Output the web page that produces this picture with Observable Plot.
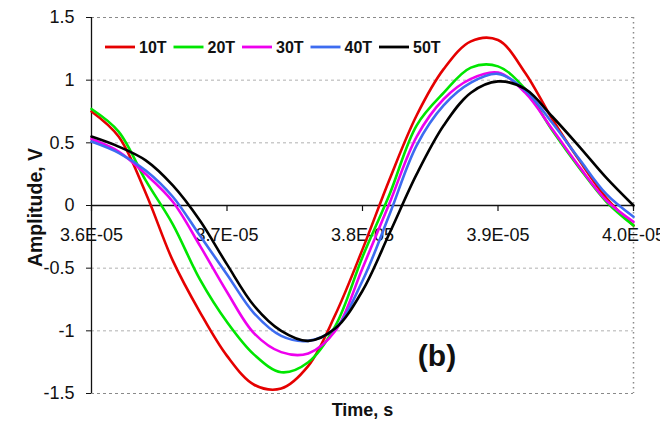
<!DOCTYPE html>
<html><head><meta charset="utf-8">
<script src="https://cdn.jsdelivr.net/npm/d3@7"></script>
<script src="https://cdn.jsdelivr.net/npm/@observablehq/plot@0.6"></script>
<style>
body{margin:0;background:#fff;}
#chart{width:660px;height:423px;overflow:hidden;}
</style>
</head><body><div id="chart"></div>
<script>
// time in microseconds (converted to seconds below)
const timeUs = [36.0,36.2,36.4,36.6,36.8,37.0,37.2,37.4,37.6,37.8,38.0,38.2,38.4,38.6,38.8,39.0,39.2,39.4,39.6,39.8,40.0];
const seriesNames = ["10T","20T","30T","40T","50T"];
const seriesColors = ["#e50000","#00e600","#ee00ee","#3d6cf0","#000000"];
const v10T = [0.75,0.55,0.10,-0.44,-0.85,-1.20,-1.43,-1.46,-1.28,-0.87,-0.35,0.21,0.72,1.09,1.31,1.32,1.06,0.69,0.36,0.06,-0.16];
const v20T = [0.77,0.59,0.20,-0.15,-0.59,-0.93,-1.19,-1.33,-1.25,-0.96,-0.41,0.09,0.64,0.90,1.10,1.11,0.93,0.60,0.30,0.03,-0.16];
const v30T = [0.53,0.43,0.25,0.03,-0.32,-0.69,-1.02,-1.17,-1.18,-1.00,-0.50,0.02,0.55,0.85,1.01,1.06,0.90,0.61,0.31,0.04,-0.13];
const v40T = [0.51,0.42,0.28,0.07,-0.24,-0.55,-0.86,-1.04,-1.08,-0.98,-0.60,-0.07,0.48,0.80,0.98,1.05,0.92,0.66,0.37,0.09,-0.09];
const v50T = [0.55,0.47,0.36,0.16,-0.12,-0.47,-0.80,-1.00,-1.08,-0.98,-0.68,-0.22,0.25,0.64,0.90,0.99,0.93,0.71,0.47,0.22,0.00];
const yTicks = [-1.5,-1,-0.5,0,0.5,1,1.5];
const yGrid = [-1,-0.5,0.5,1];
const yFrame = [-1.5,1.5];
const xTicks = [3.6e-5,3.7e-5,3.8e-5,3.9e-5,4.0e-5];
const xTitle = "Time, s";
const yTitle = "Amplitude, V";
const panelLabel = "(b)";

const allValues = [v10T,v20T,v30T,v40T,v50T];
const rows = [];
seriesNames.forEach((s, k) => {
  timeUs.forEach((t, i) => rows.push({series: s, time: t * 1e-6, value: allValues[k][i]}));
});

function fmtE(d) {
  const [m, e] = d.toExponential(1).split("e");
  const n = +e;
  return m + "E" + (n < 0 ? "-" : "+") + String(Math.abs(n)).padStart(2, "0");
}

const font = "'Liberation Sans', Arial, sans-serif";

const plot = Plot.plot({
  width: 660,
  height: 423,
  marginLeft: 91,
  marginRight: 27,
  marginTop: 17,
  marginBottom: 30,
  style: {fontFamily: font, fontSize: "18px", color: "#111", background: "#fff", overflow: "hidden"},
  x: {domain: [3.6e-5, 4.0e-5], axis: null},
  y: {domain: [-1.5, 1.5], ticks: yTicks, tickFormat: d => String(d), tickSize: 5, tickPadding: 12, label: null},
  color: {domain: seriesNames, range: seriesColors},
  marks: [
    Plot.ruleY(yGrid, {stroke: "#b0b0b0", strokeDasharray: "3,3", strokeWidth: 1}),
    Plot.ruleY(yFrame, {stroke: "#8a8a8a", strokeDasharray: "3,3", strokeWidth: 1.2}),
    Plot.ruleX([4.0e-5], {stroke: "#8a8a8a", strokeDasharray: "1.5,3.5", strokeWidth: 1.5}),
    Plot.ruleX([3.6e-5], {stroke: "#111", strokeWidth: 1.3}),
    Plot.ruleY([0], {stroke: "#111", strokeWidth: 1.3}),
    Plot.ruleX(xTicks, {x: d => d, y1: 0, y2: 0, insetTop: 0, insetBottom: -6, stroke: "#111", strokeWidth: 1.2}),
    Plot.text(xTicks, {x: d => d, y: 0, text: fmtE, dy: 30, fontSize: 18, fill: "#111"}),
    Plot.line(rows, {x: "time", y: "value", z: "series", stroke: "series", strokeWidth: 2.6, curve: "catmull-rom"}),
    Plot.text([yTitle], {frameAnchor: "left", textAnchor: "middle", rotate: -90, dx: -56, dy: 2, fontWeight: "bold", fontSize: 19.5, fill: "#111"}),
    Plot.text([xTitle], {frameAnchor: "bottom", textAnchor: "middle", dy: 22, fontWeight: "bold", fontSize: 18, fill: "#111"}),
    Plot.text([panelLabel], {x: 3.855e-5, y: -1.2, fontWeight: "bold", fontSize: 30, fill: "#111"})
  ]
});

document.getElementById("chart").appendChild(plot);

// legend inside the plot at top-left
const svg = d3.select(plot);
const leg = svg.append("g").attr("font-family", font).attr("font-weight", "bold").attr("font-size", 16).attr("text-anchor", "start");
const startX = 105, stepX = 68.5, legY = 47;
seriesNames.forEach((s, i) => {
  const g = leg.append("g").attr("transform", `translate(${startX + i * stepX},${legY})`);
  g.append("line").attr("x1", 0).attr("x2", 30).attr("y1", 0).attr("y2", 0)
    .attr("stroke", seriesColors[i]).attr("stroke-width", 2.8);
  g.append("text").attr("x", 34).attr("y", 0).attr("dy", "0.35em").attr("fill", "#111").text(s);
});
</script>
</body></html>
